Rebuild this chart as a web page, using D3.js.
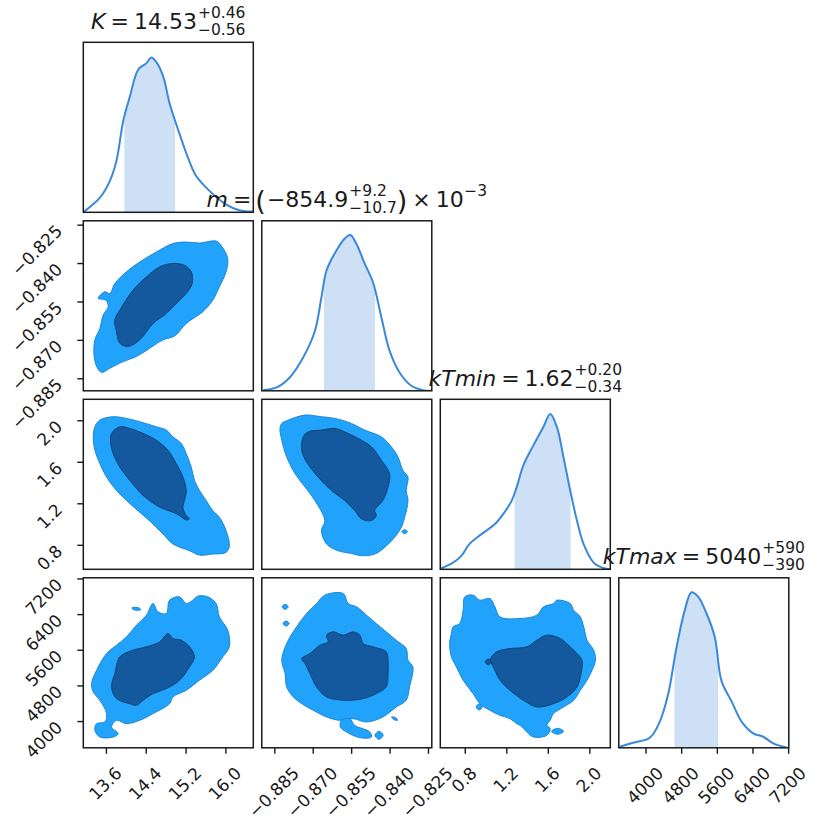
<!DOCTYPE html>
<html><head><meta charset="utf-8">
<script src="https://cdn.jsdelivr.net/npm/d3@7"></script>
<style>
body{margin:0;background:#fff}
svg{display:block}
text{font-family:"DejaVu Sans",sans-serif;fill:#1a1a1a}
</style>
</head><body>
<svg id="chart" width="830" height="830"></svg>
<script>
// ---------------- data ----------------
const params = ["K", "m", "kTmin", "kTmax"];
const domainK = [13.146, 16.56];
const domainM = [-0.8899, -0.8235];
const domainKTmin = [0.564, 2.202];
const domainKTmax = [3400, 7215];

const ticksK = [13.6, 14.4, 15.2, 16.0];
const ticksM = [-0.885, -0.870, -0.855, -0.840, -0.825];
const ticksKTmin = [0.8, 1.2, 1.6, 2.0];
const ticksKTmax = [4000, 4800, 5600, 6400, 7200];
const labelsK = ["13.6", "14.4", "15.2", "16.0"];
const labelsM = ["\u22120.885", "\u22120.870", "\u22120.855", "\u22120.840", "\u22120.825"];
const labelsKTmin = ["0.8", "1.2", "1.6", "2.0"];
const labelsKTmax = ["4000", "4800", "5600", "6400", "7200"];

const medians = [14.53, -0.8549, 1.62, 5040];
const errUp = [0.46, 0.0092, 0.20, 590];
const errDown = [0.56, 0.0107, 0.34, 390];
const titleValue = ["14.53", "\u2212854.9", "1.62", "5040"];
const titleUp = ["+0.46", "+9.2", "+0.20", "+590"];
const titleDown = ["\u22120.56", "\u221210.7", "\u22120.34", "\u2212390"];

// 1D marginal densities (relative height)
const kdeK = [[13.16,0.004],[13.48,0.086],[13.68,0.185],[13.81,0.30],[13.95,0.54],[14.08,0.68],[14.25,0.84],[14.41,0.876],[14.51,0.91],[14.61,0.885],[14.75,0.80],[14.88,0.64],[15.08,0.46],[15.25,0.32],[15.41,0.215],[15.68,0.126],[16.01,0.047],[16.28,0.012],[16.55,0.004]];
const kdeM = [[-0.8893,0.004],[-0.8841,0.02],[-0.8789,0.08],[-0.8737,0.197],[-0.8692,0.35],[-0.8666,0.55],[-0.8646,0.709],[-0.8607,0.827],[-0.8575,0.896],[-0.8553,0.916],[-0.8530,0.866],[-0.8497,0.748],[-0.8465,0.64],[-0.8432,0.433],[-0.8400,0.236],[-0.8361,0.108],[-0.8315,0.03],[-0.8270,0.004],[-0.8237,0.0]];
const kdeKTmin = [[0.574,0.006],[0.686,0.039],[0.767,0.079],[0.848,0.151],[0.961,0.207],[1.090,0.266],[1.170,0.325],[1.252,0.404],[1.300,0.483],[1.364,0.611],[1.461,0.729],[1.558,0.838],[1.623,0.913],[1.687,0.838],[1.751,0.66],[1.816,0.463],[1.881,0.286],[1.945,0.148],[2.042,0.039],[2.139,0.006],[2.200,0.0]];
const kdeKTmax = [[3421,0.006],[3720,0.03],[4095,0.059],[4320,0.154],[4506,0.313],[4695,0.59],[4881,0.81],[5032,0.915],[5180,0.889],[5369,0.79],[5555,0.65],[5706,0.392],[5931,0.273],[6155,0.154],[6416,0.085],[6641,0.065],[6866,0.026],[7166,0.002]];

// 2D credible-region outlines (data units)
const contKM_outer = [[13.446,-0.8538],[13.579,-0.8512],[13.679,-0.8519],[13.779,-0.8480],[14.013,-0.8434],[14.279,-0.8396],[14.613,-0.8357],[14.946,-0.8324],[15.213,-0.8318],[15.479,-0.8322],[15.813,-0.8314],[15.913,-0.8331],[16.046,-0.8383],[16.013,-0.8434],[15.879,-0.8493],[15.746,-0.8545],[15.546,-0.8590],[15.213,-0.8636],[14.979,-0.8685],[14.746,-0.8700],[14.479,-0.8733],[14.213,-0.8765],[13.946,-0.8785],[13.679,-0.8811],[13.513,-0.8827],[13.413,-0.8804],[13.359,-0.8752],[13.379,-0.8700],[13.479,-0.8655],[13.546,-0.8603],[13.646,-0.8571],[13.599,-0.8545]];
const contKM_inner = [[13.879,-0.8584],[14.146,-0.8506],[14.413,-0.8454],[14.679,-0.8415],[14.946,-0.8402],[15.179,-0.8409],[15.313,-0.8434],[15.333,-0.8480],[15.213,-0.8519],[15.013,-0.8558],[14.813,-0.8597],[14.546,-0.8636],[14.279,-0.8700],[14.046,-0.8726],[13.879,-0.8713],[13.813,-0.8668],[13.779,-0.8622]];

const contKT1_outer = [[13.379,1.937],[13.479,2.002],[13.746,2.034],[14.013,2.018],[14.279,1.986],[14.613,1.937],[14.813,1.905],[14.946,1.840],[15.113,1.776],[15.213,1.679],[15.313,1.550],[15.379,1.421],[15.479,1.324],[15.613,1.227],[15.746,1.130],[15.879,1.066],[16.013,0.937],[16.079,0.791],[16.013,0.727],[15.746,0.711],[15.479,0.701],[15.279,0.743],[14.946,0.808],[14.746,0.904],[14.546,1.001],[14.279,1.114],[14.013,1.227],[13.813,1.324],[13.613,1.453],[13.479,1.582],[13.379,1.711],[13.346,1.840]];
const contKT1_inner = [[13.713,1.873],[13.879,1.937],[14.079,1.921],[14.346,1.873],[14.613,1.808],[14.846,1.711],[15.013,1.582],[15.146,1.453],[15.213,1.324],[15.179,1.227],[15.146,1.163],[15.213,1.082],[15.279,1.050],[15.213,1.040],[15.079,1.082],[14.946,1.114],[14.679,1.163],[14.346,1.276],[14.079,1.421],[13.879,1.550],[13.746,1.679],[13.699,1.776]];

const contMT1_outer = [[-0.8821,1.970],[-0.8795,2.002],[-0.8730,2.050],[-0.8666,2.034],[-0.8614,2.018],[-0.8549,1.970],[-0.8497,1.905],[-0.8432,1.840],[-0.8393,1.744],[-0.8367,1.647],[-0.8348,1.518],[-0.8328,1.453],[-0.8335,1.324],[-0.8328,1.227],[-0.8341,1.066],[-0.8354,0.969],[-0.8380,0.872],[-0.8419,0.775],[-0.8458,0.711],[-0.8510,0.695],[-0.8549,0.717],[-0.8601,0.743],[-0.8646,0.808],[-0.8666,0.937],[-0.8653,1.034],[-0.8692,1.227],[-0.8730,1.356],[-0.8769,1.485],[-0.8802,1.647],[-0.8821,1.808],[-0.8828,1.921]];
const contMT1_inner = [[-0.8737,1.840],[-0.8717,1.889],[-0.8666,1.905],[-0.8614,1.921],[-0.8562,1.873],[-0.8510,1.808],[-0.8471,1.744],[-0.8432,1.615],[-0.8400,1.485],[-0.8406,1.356],[-0.8426,1.227],[-0.8458,1.130],[-0.8452,1.082],[-0.8471,1.034],[-0.8510,1.050],[-0.8536,1.130],[-0.8575,1.227],[-0.8627,1.324],[-0.8679,1.453],[-0.8724,1.598],[-0.8743,1.711]];
const contMT1_islands = [[[-0.8352,0.927],[-0.8341,0.946],[-0.8330,0.927],[-0.8341,0.908]]];

const contKT2_outer = [[13.313,4841],[13.413,5140],[13.613,5515],[13.813,5702],[14.013,5889],[14.213,6151],[14.413,6376],[14.546,6638],[14.646,6451],[14.813,6414],[14.879,6713],[15.079,6788],[15.213,6638],[15.346,6713],[15.446,6803],[15.646,6788],[15.813,6638],[15.879,6339],[16.046,6039],[16.079,5665],[15.946,5440],[15.746,5140],[15.479,4916],[15.213,4691],[14.946,4541],[14.879,4391],[14.546,4167],[14.279,4017],[14.013,3942],[13.813,4017],[13.713,3867],[13.846,3717],[13.746,3642],[13.479,3642],[13.379,3792],[13.413,3942],[13.579,3979],[13.613,4167],[13.479,4466],[13.346,4653]];
const contKT2_inner = [[13.713,4766],[13.779,5065],[13.879,5440],[14.146,5590],[14.413,5665],[14.679,5777],[14.846,5964],[14.946,5852],[15.113,5814],[15.279,5665],[15.379,5440],[15.279,5215],[15.079,4916],[14.813,4728],[14.546,4616],[14.346,4466],[14.213,4354],[14.079,4391],[13.813,4504]];
const contKT2_islands = [[[14.12,6540],[14.25,6545],[14.30,6500],[14.17,6495]]];

const contMT2_outer = [[-0.8821,5365],[-0.8802,5739],[-0.8763,6114],[-0.8724,6414],[-0.8685,6638],[-0.8653,6826],[-0.8581,6863],[-0.8562,6638],[-0.8529,6563],[-0.8490,6376],[-0.8452,6189],[-0.8413,6002],[-0.8374,5814],[-0.8335,5627],[-0.8328,5365],[-0.8309,5215],[-0.8322,4766],[-0.8335,4466],[-0.8374,4316],[-0.8426,4092],[-0.8490,3979],[-0.8542,4054],[-0.8594,4017],[-0.8646,4092],[-0.8698,4241],[-0.8743,4391],[-0.8776,4541],[-0.8802,4766],[-0.8808,5065]];
const contMT2_inner = [[-0.8743,5402],[-0.8711,5515],[-0.8672,5702],[-0.8640,5777],[-0.8646,5927],[-0.8620,6002],[-0.8581,5927],[-0.8542,6002],[-0.8516,5927],[-0.8503,5739],[-0.8464,5665],[-0.8413,5552],[-0.8406,5365],[-0.8406,5065],[-0.8413,4766],[-0.8452,4616],[-0.8503,4504],[-0.8568,4466],[-0.8646,4541],[-0.8685,4766],[-0.8711,5065],[-0.8730,5290]];
const contMT2_islands = [
  [[-0.8820,6563],[-0.8808,6620],[-0.8796,6563],[-0.8808,6506]],
  [[-0.8816,6189],[-0.8804,6246],[-0.8792,6189],[-0.8804,6132]],
  [[-0.8588,4017],[-0.8555,4054],[-0.8536,3904],[-0.8477,3755],[-0.8471,3642],[-0.8516,3627],[-0.8568,3755],[-0.8592,3867]],
  [[-0.8457,3680],[-0.8441,3770],[-0.8425,3680],[-0.8441,3590]],
  [[-0.8392,4090],[-0.8378,4080],[-0.8368,4020],[-0.8382,4030]]
];

const contTT_outer = [[0.671,5964],[0.687,6114],[0.751,6189],[0.784,6488],[0.800,6788],[0.880,6826],[0.945,6713],[1.042,6751],[1.090,6563],[1.139,6339],[1.332,6301],[1.494,6376],[1.558,6563],[1.655,6638],[1.687,6713],[1.816,6638],[1.849,6488],[1.913,6339],[1.946,6114],[1.978,5814],[2.042,5590],[2.059,5365],[2.026,5140],[1.978,4916],[1.913,4691],[1.849,4466],[1.752,4316],[1.655,4167],[1.623,4017],[1.591,3904],[1.623,3830],[1.591,3680],[1.461,3642],[1.397,3755],[1.332,3904],[1.300,3942],[1.235,4054],[1.139,4129],[1.042,4241],[0.945,4391],[0.880,4616],[0.784,4916],[0.719,5215],[0.671,5440],[0.654,5739]];
const contTT_inner = [[1.042,5365],[1.106,5552],[1.235,5627],[1.397,5665],[1.494,5814],[1.591,5927],[1.720,5852],[1.816,5665],[1.881,5515],[1.929,5365],[1.920,5065],[1.881,4766],[1.784,4541],[1.655,4391],[1.494,4316],[1.365,4466],[1.235,4691],[1.139,4916],[1.090,5140],[1.058,5290]];
const contTT_islands = [
  [[0.909,4316],[0.938,4383],[0.967,4316],[0.938,4249]],
  [[1.636,3770],[1.694,3837],[1.752,3770],[1.694,3703]]
];
const contTT_innerIslands = [[[0.997,5328],[1.026,5395],[1.055,5328],[1.026,5261]]];

// ---------------- assembly ----------------
const domains = [domainK, domainM, domainKTmin, domainKTmax];
const tickVals = [ticksK, ticksM, ticksKTmin, ticksKTmax];
const tickLabels = [labelsK, labelsM, labelsKTmin, labelsKTmax];
const kdes = [kdeK, kdeM, kdeKTmin, kdeKTmax];
const contours = {
  "10": {outer: contKM_outer, inner: contKM_inner, islands: [], innerIslands: []},
  "20": {outer: contKT1_outer, inner: contKT1_inner, islands: [], innerIslands: []},
  "21": {outer: contMT1_outer, inner: contMT1_inner, islands: contMT1_islands, innerIslands: []},
  "30": {outer: contKT2_outer, inner: contKT2_inner, islands: contKT2_islands, innerIslands: []},
  "31": {outer: contMT2_outer, inner: contMT2_inner, islands: contMT2_islands, innerIslands: []},
  "32": {outer: contTT_outer, inner: contTT_inner, islands: contTT_islands, innerIslands: contTT_innerIslands}
};

const gridLeft = 83.3, gridTop = 42.3, cell = 170, step = 178.5;
const lightFill = "#22a3fb", lightEdge = "#1c86d4";
const darkFill = "#14599e", darkEdge = "#0e4275";
const lineColor = "#3a88da", shadeColor = "#cde0f5";

const svg = d3.select("#chart");
svg.append("rect").attr("width", 830).attr("height", 830).attr("fill", "#fff");
const defs = svg.append("defs");

function xScale(p, col) { const x0 = gridLeft + col * step; return d3.scaleLinear().domain(domains[p]).range([x0, x0 + cell]); }
function yScale(p, row) { const y0 = gridTop + row * step; return d3.scaleLinear().domain(domains[p]).range([y0 + cell, y0]); }

for (let i = 0; i < 4; i++) {
  for (let j = 0; j <= i; j++) {
    const x0 = gridLeft + j * step, y0 = gridTop + i * step;
    const clipId = `clip-${i}-${j}`;
    defs.append("clipPath").attr("id", clipId).append("rect")
      .attr("x", x0).attr("y", y0).attr("width", cell).attr("height", cell);
    const g = svg.append("g").attr("clip-path", `url(#${clipId})`);
    const xs = xScale(j, j);
    if (i === j) {
      const ys = d3.scaleLinear().domain([0, 1]).range([y0 + cell, y0]);
      const data = kdes[i];
      const lo = medians[i] - errDown[i], hi = medians[i] + errUp[i];
      const shadeId = `shade-${i}`;
      defs.append("clipPath").attr("id", shadeId).append("rect")
        .attr("x", xs(lo)).attr("y", y0).attr("width", xs(hi) - xs(lo)).attr("height", cell);
      const curve = d3.curveCatmullRom.alpha(0.5);
      const area = d3.area().x(d => xs(d[0])).y0(ys(0)).y1(d => ys(d[1])).curve(curve);
      const line = d3.line().x(d => xs(d[0])).y(d => ys(d[1])).curve(curve);
      g.append("g").attr("clip-path", `url(#${shadeId})`)
        .append("path").datum(data).attr("d", area).attr("fill", shadeColor);
      g.append("path").datum(data).attr("d", line)
        .attr("fill", "none").attr("stroke", lineColor).attr("stroke-width", 2);
    } else {
      const ys = yScale(i, i);
      const c = contours[`${i}${j}`];
      const line = d3.line().x(d => xs(d[0])).y(d => ys(d[1])).curve(d3.curveCatmullRomClosed.alpha(0.5));
      [c.outer, ...c.islands].forEach(poly => {
        g.append("path").datum(poly).attr("d", line)
          .attr("fill", lightFill).attr("stroke", lightEdge).attr("stroke-width", 1);
      });
      [c.inner, ...c.innerIslands].forEach(poly => {
        g.append("path").datum(poly).attr("d", line)
          .attr("fill", darkFill).attr("stroke", darkEdge).attr("stroke-width", 1);
      });
    }
    svg.append("rect").attr("x", x0).attr("y", y0).attr("width", cell).attr("height", cell)
      .attr("fill", "none").attr("stroke", "#1a1a1a").attr("stroke-width", 1.5);
  }
}

// ---------------- axes ----------------
const tickFont = 17;
for (let j = 0; j < 4; j++) {
  const ax = svg.append("g").attr("transform", `translate(0,${gridTop + 3 * step + cell})`)
    .call(d3.axisBottom(xScale(j, j)).tickValues(tickVals[j]).tickSize(6).tickPadding(0)
      .tickFormat((d, k) => tickLabels[j][k]));
  ax.select(".domain").remove();
  ax.selectAll("line").attr("stroke", "#1a1a1a").attr("stroke-width", 1.4);
  ax.selectAll("text")
    .attr("font-size", tickFont).attr("font-family", "DejaVu Sans").attr("fill", "#1a1a1a")
    .attr("x", 0).attr("y", 0).attr("dy", "0.36em").attr("text-anchor", "middle")
    .attr("transform", function () {
      const w = this.getComputedTextLength();
      const cy = 15.2 + (w + 1.164 * tickFont) * 0.354;
      return `translate(-1.2,${cy}) rotate(-45)`;
    });
}
for (let i = 1; i < 4; i++) {
  const ax = svg.append("g").attr("transform", `translate(${gridLeft},0)`)
    .call(d3.axisLeft(yScale(i, i)).tickValues(tickVals[i]).tickSize(6).tickPadding(0)
      .tickFormat((d, k) => tickLabels[i][k]));
  ax.select(".domain").remove();
  ax.selectAll("line").attr("stroke", "#1a1a1a").attr("stroke-width", 1.4);
  ax.selectAll("text")
    .attr("font-size", tickFont).attr("font-family", "DejaVu Sans").attr("fill", "#1a1a1a")
    .attr("x", 0).attr("y", 0).attr("dy", null).attr("text-anchor", "end")
    .attr("transform", "translate(-20,7) rotate(-45)");
}

// ---------------- titles ----------------
const mainSize = 22, scriptSize = 15.5;
function drawTitle(pieces, cx, baseline) {
  const tg = svg.append("g");
  let x = 0;
  pieces.forEach(p => {
    if (p.stack) {
      const a = tg.append("text").attr("x", x).attr("y", -11).attr("font-size", scriptSize).text(p.stack[0]);
      const b = tg.append("text").attr("x", x).attr("y", 6).attr("font-size", scriptSize).text(p.stack[1]);
      x += Math.max(a.node().getComputedTextLength(), b.node().getComputedTextLength()) + (p.gap || 0);
    } else {
      const t = tg.append("text").attr("x", x).attr("y", p.dy || 0)
        .attr("font-size", p.size || mainSize)
        .attr("font-style", p.italic ? "italic" : "normal").text(p.t);
      x += t.node().getComputedTextLength() + (p.gap || 0);
    }
  });
  tg.attr("transform", `translate(${cx - x / 2},${baseline})`);
}
for (let i = 0; i < 4; i++) {
  const cx = gridLeft + i * step + cell / 2;
  const baseline = gridTop + i * step - 13.7;
  let pieces;
  if (i === 1) {
    pieces = [
      {t: params[i], italic: true, gap: 5}, {t: "=", gap: 4},
      {t: "(", size: 27, dy: 3, gap: 1}, {t: titleValue[i], gap: 1},
      {stack: [titleUp[i], titleDown[i]]}, {t: ")", size: 27, dy: 3, gap: 5},
      {t: "\u00d7", gap: 5}, {t: "10", gap: 0.5}, {t: "\u22123", size: scriptSize, dy: -11}
    ];
  } else {
    pieces = [
      {t: params[i], italic: true, gap: 5}, {t: "=", gap: 5},
      {t: titleValue[i], gap: 1}, {stack: [titleUp[i], titleDown[i]]}
    ];
  }
  drawTitle(pieces, cx, baseline);
}
</script>
</body></html>
